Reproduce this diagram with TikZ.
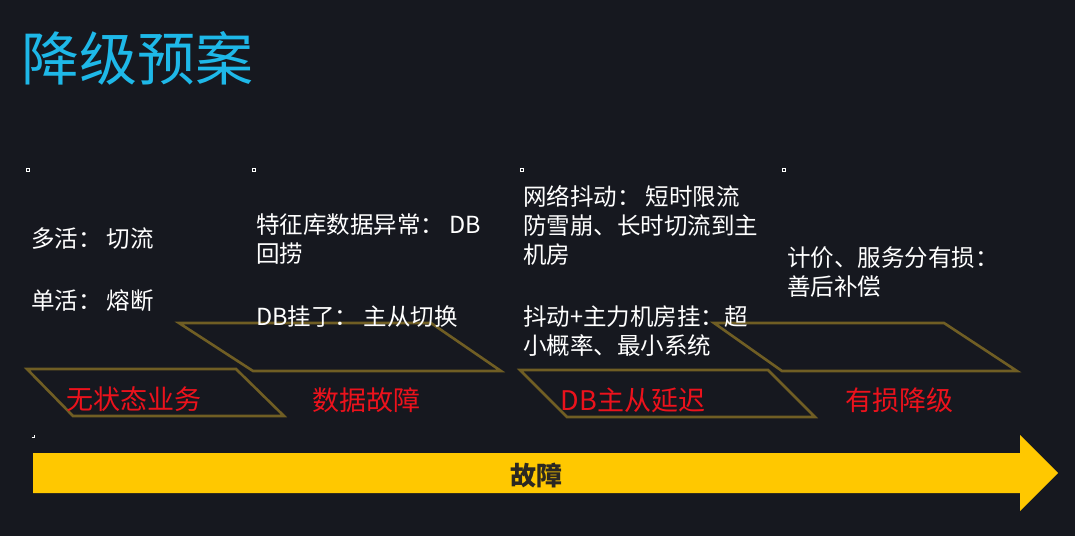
\documentclass[tikz,border=0pt]{standalone}
\usepackage{fontspec}
\setmainfont{Noto Sans CJK SC}

\definecolor{slidebg}{RGB}{22,24,31}
\definecolor{titlecyan}{RGB}{30,184,232}
\definecolor{plategold}{RGB}{112,94,36}
\definecolor{tagred}{RGB}{236,18,28}
\definecolor{arrowyellow}{RGB}{255,200,0}
\definecolor{arrowtext}{RGB}{43,40,34}

\tikzset{
    note/.style={anchor=north west, inner sep=0pt, align=left, text=white,
        font=\fontsize{23.5}{29}\selectfont},
    tag/.style={inner sep=0pt, text=tagred, font=\fontsize{27}{30}\selectfont},
    plate/.style={draw=plategold, line width=2.6pt, line join=miter},
    bullet/.style={draw=white, line width=0.6pt}
}

\begin{document}
\begin{tikzpicture}[
    x=1pt,
    y=-1pt
]

% Background
\fill[slidebg] (0,0) rectangle (1075,536);
\useasboundingbox (0,0) rectangle (1075,536);

% Title
\node[anchor=west, inner sep=0pt, text=titlecyan,
    font=\fontsize{58}{60}\selectfont] (title) at (21,58) {降级预案};

% Bullet marks
\foreach \x in {28,254,522,784} {
    \draw[bullet] (\x-1.5,168.5) rectangle +(3,3);
}
\draw[bullet] (31.5,437.5) -- (34,437.5) -- (34,435);

% Plates: corners
\draw[plate] (27,369) -- (236,369) -- (284,416) -- (73,416) -- cycle;
\draw[plate] (179,323) -- (431,323) -- (501,371) -- (253,371) -- cycle;
\draw[plate] (520,370) -- (768,370) -- (815,417) -- (567,417) -- cycle;
\draw[plate] (714,323) -- (944,323) -- (1017,371) -- (782,371) -- cycle;

% Plate labels
\node[tag] (stateless) at (134,399) {无状态业务};
\node[tag] (datafault) at (366,400) {数据故障};
\node[tag] (dblag)     at (633,400) {DB主从延迟};
\node[tag] (lossy)     at (899,400) {有损降级};

% Notes
\node[note] (multi)  at (31,228)  {多活： 切流};
\node[note] (single) at (31,289)  {单活： 熔断};
\node[note] (featdb) at (256,214) {特征库数据异常： DB\\回捞};
\node[note] (dbdown) at (256,306) {DB挂了： 主从切换};
\node[note] (jitter) at (523,185) {网络抖动： 短时限流\\防雪崩、长时切流到主\\机房};
\node[note] (master) at (523,306) {抖动+主力机房挂：超\\小概率、最小系统};
\node[note] (price)  at (787,247) {计价、服务分有损：\\善后补偿};

% Fault arrow
\fill[arrowyellow] (33,453) -- (1020,453) -- (1020,435) -- (1058,473)
    -- (1020,511) -- (1020,493) -- (33,493) -- cycle;
\node[inner sep=0pt, text=arrowtext, font=\bfseries\fontsize{26}{28}\selectfont]
    (fault) at (536,475) {故障};

\end{tikzpicture}
\end{document}
